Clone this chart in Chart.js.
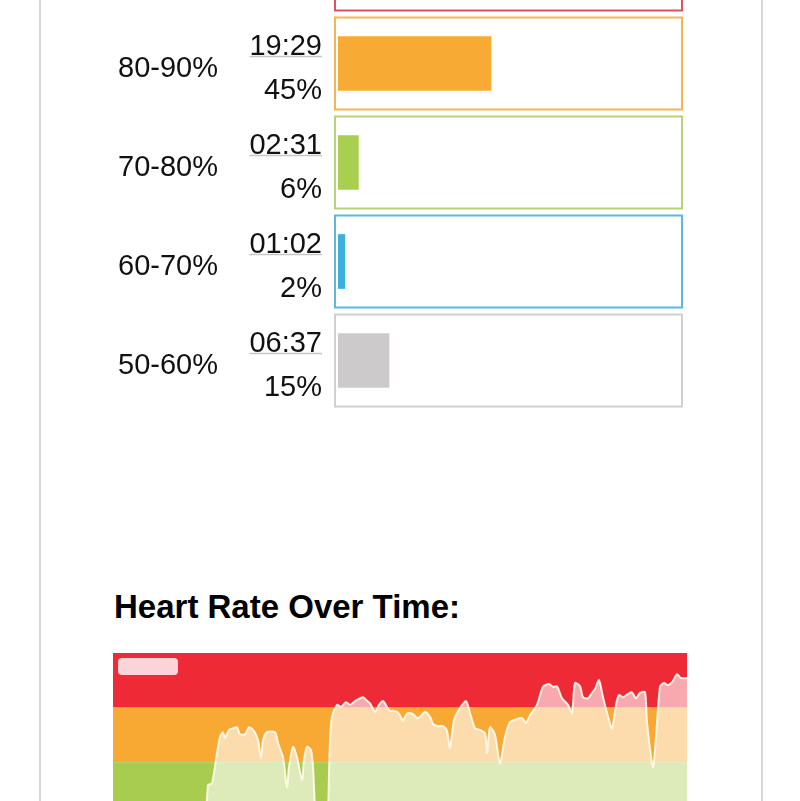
<!DOCTYPE html>
<html><head><meta charset="utf-8">
<script src="https://cdn.jsdelivr.net/npm/chart.js@4"></script>
<style>
html,body{margin:0;padding:0;background:#fff;width:800px;height:801px;overflow:hidden;position:relative;font-family:"Liberation Sans",Arial,Helvetica,sans-serif;}
#card{position:absolute;left:39px;top:-20px;width:720px;height:900px;border-left:2px solid #d6d6d6;border-right:2px solid #d6d6d6;}
#zones{position:absolute;left:0;top:-85px;}
#title{position:absolute;left:114px;top:590px;font-size:33px;line-height:33px;font-weight:bold;color:#000;margin:0;white-space:nowrap;}
#hr{position:absolute;left:113px;top:653px;}
#legendBox{position:absolute;left:118px;top:658px;width:60px;height:17px;border-radius:4px;background:rgba(255,255,255,0.8);}
</style></head>
<body>
<div id="card"></div>
<canvas id="zones" width="800" height="495"></canvas>
<h2 id="title">Heart Rate Over Time:</h2>
<canvas id="hr" width="574" height="273"></canvas>
<div id="legendBox"></div>
<script>
// ---- Zone summary data ----
const zoneLabels = ['90-100%', '80-90%', '70-80%', '60-70%', '50-60%'];
const zoneTimes = ['13:39', '19:29', '02:31', '01:02', '06:37'];
const zonePercents = [32, 45, 6, 2, 15];
const zoneBarColors = ['#ee2a37', '#f7ab35', '#a8cf4f', '#39b0dd', '#cccacb'];
const zoneBorderColors = ['#e3505a', '#f4b553', '#b5d47a', '#5cb9dc', '#d0d0d0'];

// ---- Heart rate over time (minutes, % of max HR) ----
const hrTimes = [7.28,7.6,7.92,8.32,8.56,8.8,8.96,9.28,9.6,9.92,10.16,10.56,10.88,11.28,11.6,11.84,12.0,12.32,12.96,13.2,13.6,13.92,14.08,14.4,14.72,15.12,15.28,15.52,15.84,16.0,16.24,16.56,17.04,17.36,17.52,17.92,18.24,18.64,18.96,19.36,20.0,20.24,20.56,20.96,21.28,21.6,21.92,22.16,22.4,22.72,22.96,23.2,23.36,23.6,24.0,24.32,24.56,24.96,25.36,25.6,26.0,26.4,26.72,26.96,27.28,27.76,28.24,28.56,28.96,29.36,29.76,29.92,30.16,30.56,30.96,31.36,31.76,32.32,32.72,33.04,33.36,33.92,34.4,34.88,35.2,35.52,35.92,36.4,36.72,36.96,37.36,37.6,38.0,38.32,38.56,38.88,39.2,39.6,39.92,40.24,40.48,40.8,41.2,41.52,41.84,42.16,42.56,42.72,43.2,43.44,43.76,44.08,44.4,44.8,45.12,45.44,45.92];
const hrPercent = [62,75.8,76.1,81.7,84.6,85.5,84.4,85.9,86.2,86.4,85.1,85.1,86.4,85.7,84.0,80.7,84.0,85.5,85.5,83.5,80.9,75.4,79.1,82.8,80.9,76.7,80.4,82.8,82.2,79.1,68,62,62,84,88.3,90.5,90.1,91.0,90.5,91.2,91.9,91.4,90.8,89.2,90.5,91.2,90.1,89.4,89.4,89.2,88.6,87.5,88.3,89.0,88.8,88.1,88.3,89.2,88.3,87.0,86.6,86.6,85.7,82.6,87.7,89.9,91.2,89.0,86.2,85.9,85.3,81.7,86.4,85.0,79.8,84.6,87.3,87.9,88.1,87.2,88.6,90.5,93.8,94.3,93.8,93.9,91.7,90.5,89.0,94.5,93.9,91.9,91.7,92.7,93.4,95.0,91.9,88.4,86.2,90.5,92.3,91.9,92.5,92.8,91.7,92.7,92.8,87.3,79.1,84.6,93.8,94.5,94.1,94.9,96.1,95.4,95.4];

const bandLows = [90, 80, 70, 60, 50];
const bandHighs = [100, 90, 80, 70, 60];
const bandColors = ['#ee2a37', '#f7a934', '#a8cc50', '#39b0dd', '#cccacb'];

const FONT = '"Liberation Sans", Arial, Helvetica, sans-serif';

const zonePlugin = {
  id: 'zoneBoxes',
  beforeDatasetsDraw(chart) {
    const ctx = chart.ctx, y = chart.scales.y, a = chart.chartArea;
    ctx.save();
    ctx.lineWidth = 2;
    zoneLabels.forEach((lab, i) => {
      const c = y.getPixelForValue(i);
      ctx.strokeStyle = zoneBorderColors[i];
      ctx.strokeRect(a.left - 3, c - 46, (a.right + 4) - (a.left - 3), 92);
    });
    ctx.restore();
  },
  afterDraw(chart) {
    const ctx = chart.ctx, y = chart.scales.y;
    ctx.save();
    ctx.fillStyle = '#111';
    ctx.font = '29px ' + FONT;
    ctx.textBaseline = 'alphabetic';
    zoneLabels.forEach((lab, i) => {
      const c = y.getPixelForValue(i);
      ctx.textAlign = 'center';
      ctx.fillText(lab, 168, c + 13);
      ctx.textAlign = 'right';
      ctx.fillText(zoneTimes[i], 322, c - 9);
      ctx.fillText(zonePercents[i] + '%', 322, c + 35);
      const w = ctx.measureText(zoneTimes[i]).width;
      ctx.strokeStyle = '#c6c6c6';
      ctx.lineWidth = 1.5;
      ctx.beginPath();
      ctx.moveTo(322 - w, c - 7);
      ctx.lineTo(322, c - 7);
      ctx.stroke();
    });
    ctx.restore();
  }
};

new Chart(document.getElementById('zones'), {
  type: 'bar',
  data: {
    labels: zoneLabels,
    datasets: [{ data: zonePercents, backgroundColor: zoneBarColors, barThickness: 54, borderWidth: 0 }]
  },
  options: {
    indexAxis: 'y',
    responsive: false,
    animation: false,
    devicePixelRatio: 1,
    layout: { padding: { left: 338, right: 122, top: 0, bottom: 0 } },
    scales: {
      x: { min: 0, max: 100, display: false },
      y: { display: false }
    },
    plugins: { legend: { display: false }, tooltip: { enabled: false } }
  },
  plugins: [zonePlugin]
});

const bandPlugin = {
  id: 'bands',
  beforeDatasetsDraw(chart) {
    const ctx = chart.ctx, y = chart.scales.y, a = chart.chartArea;
    ctx.save();
    bandLows.forEach((lo, i) => {
      const top = y.getPixelForValue(bandHighs[i]);
      const bot = y.getPixelForValue(lo);
      ctx.fillStyle = bandColors[i];
      ctx.fillRect(a.left, top, a.right - a.left, bot - top);
    });
    ctx.restore();
  }
};

new Chart(document.getElementById('hr'), {
  type: 'line',
  data: {
    datasets: [{
      data: hrTimes.map((t, i) => ({ x: t, y: hrPercent[i] })),
      fill: 'start',
      backgroundColor: 'rgba(255,255,255,0.6)',
      borderColor: 'rgba(255,249,232,0.95)',
      borderWidth: 2,
      pointRadius: 0,
      tension: 0.25
    }]
  },
  options: {
    responsive: false,
    animation: false,
    devicePixelRatio: 1,
    layout: { padding: 0 },
    scales: {
      x: { type: 'linear', min: 0, max: 45.92, display: false },
      y: { min: 50, max: 100, display: false }
    },
    plugins: { legend: { display: false }, tooltip: { enabled: false } }
  },
  plugins: [bandPlugin]
});
</script>
</body></html>
